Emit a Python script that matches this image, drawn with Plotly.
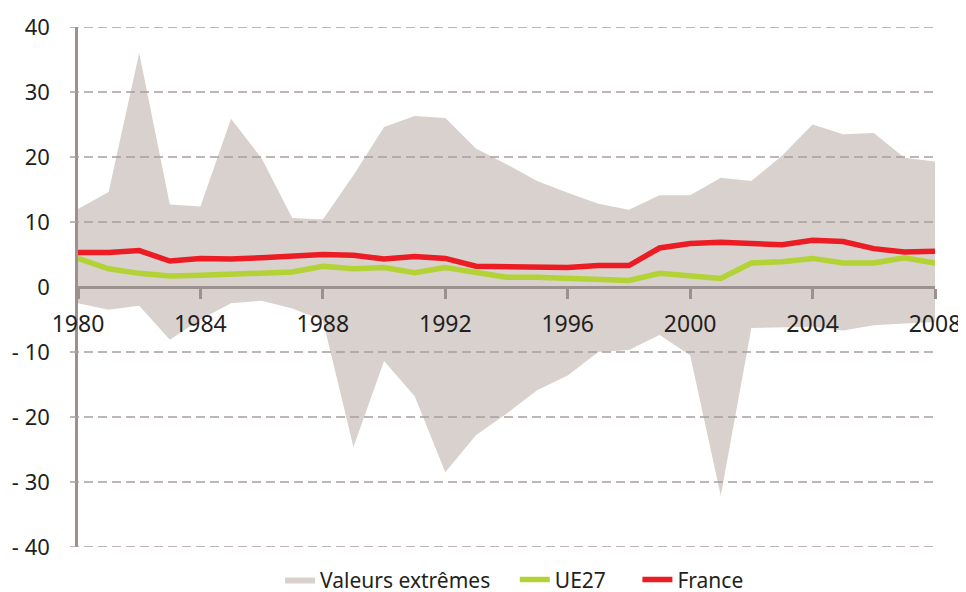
import plotly.graph_objects as go

years = list(range(1980, 2009))

max_vals = [12.0, 14.6, 36.0, 12.7, 12.4, 25.9, 19.8, 10.6, 10.4, 17.2,
            24.6, 26.3, 26.0, 21.3, 18.9, 16.3, 14.5, 12.8, 11.9, 14.1,
            14.1, 16.8, 16.3, 20.2, 25.0, 23.5, 23.7, 19.9, 19.3]
min_vals = [-2.5, -3.5, -2.9, -8.1, -5.0, -2.5, -2.1, -3.3, -5.1, -24.6,
            -11.4, -16.8, -28.5, -22.8, -19.5, -15.9, -13.6, -10.0, -9.7, -7.4,
            -10.5, -32.1, -6.3, -6.2, -6.1, -6.7, -5.9, -5.6, -5.4]
france = [5.3, 5.3, 5.6, 4.0, 4.4, 4.3, 4.5, 4.8, 5.0, 4.9,
          4.3, 4.7, 4.4, 3.2, 3.2, 3.2, 3.0, 3.3, 3.3, 6.0,
          6.7, 6.9, 6.8, 6.5, 7.2, 7.0, 5.9, 5.4, 5.5]
ue27 = [4.4, 2.8, 2.1, 1.7, 1.8, 2.0, 2.2, 2.3, 3.2, 2.8,
        3.0, 2.2, 3.0, 2.2, 1.5, 1.5, 1.3, 1.0, 1.0, 2.1,
        1.7, 1.3, 3.7, 3.9, 4.4, 3.7, 3.7, 4.5, 3.7]

x_ticks = [1980, 1984, 1988, 1992, 1996, 2000, 2004, 2008]
y_ticks = [40, 30, 20, 10, 0, -10, -20, -30, -40]
y_tick_text = ["40", "30", "20", "10", "0", "- 10", "- 20", "- 30", "- 40"]
grid_vals = [v for v in y_ticks if v != 0]

FILL = "#d9d1ce"
RED = "#ec1c24"
GREEN = "#b2d235"
AXIS = "#9b918e"
GRID = "#a89f9c"
TEXT = "#231f20"
FONT = "Noto Sans"

fig = go.Figure()
fig.add_trace(go.Scatter(x=years, y=min_vals, mode="lines", line=dict(width=0, color=FILL),
                         showlegend=False, hoverinfo="skip"))
fig.add_trace(go.Scatter(x=years, y=max_vals, mode="lines", line=dict(width=0, color=FILL),
                         fill="tonexty", fillcolor=FILL, name="Valeurs extrêmes", legend="legend"))
fig.add_trace(go.Scatter(x=years, y=ue27, mode="lines", line=dict(width=5.5, color=GREEN),
                         name="UE27", legend="legend2"))
fig.add_trace(go.Scatter(x=years, y=france, mode="lines", line=dict(width=5.5, color=RED),
                         name="France", legend="legend3"))

for v in grid_vals:
    fig.add_shape(type="line", xref="paper", yref="y", x0=-8 / 857, x1=1 + 3 / 857,
                  y0=v, y1=v, line=dict(color=GRID, width=1.3, dash="9px,5px"), layer="above")


def legend_box(xpos):
    return dict(orientation="h", xref="container", x=xpos, xanchor="left",
                yref="container", y=0.021, yanchor="middle",
                font=dict(size=21, color=TEXT, family=FONT), bgcolor="rgba(0,0,0,0)")


fig.update_layout(
    width=958, height=584,
    margin=dict(l=70, r=31, t=19, b=45),
    paper_bgcolor="white", plot_bgcolor="white",
    font=dict(family=FONT, color=TEXT),
    showlegend=True,
    legend=legend_box(0.284),
    legend2=legend_box(0.529),
    legend3=legend_box(0.657),
    xaxis=dict(range=[1980, 2008], tickvals=x_ticks, ticktext=[str(t) for t in x_ticks],
               showgrid=False, zeroline=False, showline=True, linecolor=AXIS, linewidth=2.5,
               ticks="outside", ticklen=10, tickwidth=2.5, tickcolor=AXIS,
               anchor="free", position=0.5, layer="above traces", automargin=False,
               tickfont=dict(size=23, color=TEXT, family=FONT), ticklabelstandoff=6),
    yaxis=dict(range=[-40, 40], tickvals=y_ticks, ticktext=y_tick_text,
               showgrid=False, zeroline=False, showline=True, linecolor=AXIS, linewidth=2.5,
               ticks="", layer="above traces", automargin=False,
               tickfont=dict(size=22, color=TEXT, family=FONT), ticklabelstandoff=21),
)

fig.write_html("out.html")
